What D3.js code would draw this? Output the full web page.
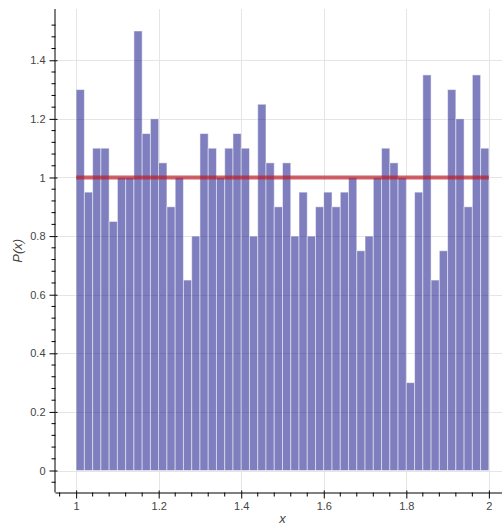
<!DOCTYPE html>
<html><head><meta charset="utf-8">
<script src="https://cdn.jsdelivr.net/npm/d3@7"></script>
<style>body{margin:0;background:#fff}svg{display:block}text{font-family:"Liberation Sans",Helvetica,Arial,sans-serif}</style>
</head><body><svg id="c" width="502" height="526"></svg>
<script>
const binEdgesStart = 1.0;
const binWidth = 0.02;
const values = [1.3,0.95,1.1,1.1,0.85,1.0,1.0,1.5,1.15,1.2,1.05,0.9,1.0,0.65,0.8,1.15,1.1,1.0,1.1,1.15,1.1,0.8,1.25,1.05,0.9,1.05,0.8,0.95,0.8,0.9,0.95,0.9,0.95,1.0,0.75,0.8,1.0,1.1,1.05,1.0,0.3,0.95,1.35,0.65,0.75,1.3,1.2,0.9,1.35,1.1];
const pdfX = [1.0, 2.0];
const pdfY = [1.0, 1.0];
const xTicks = [1,1.2,1.4,1.6,1.8,2];
const yTicks = [0,0.2,0.4,0.6,0.8,1,1.2,1.4];
const xLabel = "x", yLabel = "P(x)";

(function(){
const svg = d3.select("#c");
const x = d3.scaleLinear().domain([0.95,2.05]).range([55.5,509.5]);
const y = d3.scaleLinear().domain([-0.075,1.575]).range([492.5,9]);
const fL = 55.5, fT = 9, fB = 492.5, fR = 509.5;

const g = svg.append("g");
g.selectAll(".gx").data(xTicks).join("line")
 .attr("x1",d=>Math.round(x(d))+0.5).attr("x2",d=>Math.round(x(d))+0.5).attr("y1",fT).attr("y2",fB)
 .attr("stroke","#e5e5e5").attr("stroke-width",1);
g.selectAll(".gy").data(yTicks).join("line")
 .attr("y1",d=>Math.round(y(d))+0.5).attr("y2",d=>Math.round(y(d))+0.5).attr("x1",fL).attr("x2",fR)
 .attr("stroke","#e5e5e5").attr("stroke-width",1);

const bars = values.map((v,i)=>({x0:binEdgesStart+i*binWidth, x1:binEdgesStart+(i+1)*binWidth, v}));
svg.append("g").selectAll("rect").data(bars).join("rect")
 .attr("x",d=>x(d.x0)).attr("width",d=>x(d.x1)-x(d.x0))
 .attr("y",d=>y(d.v)).attr("height",d=>y(0)-y(d.v))
 .attr("fill","rgba(0,0,128,0.5)").attr("stroke","rgba(255,255,255,0.5)").attr("stroke-width",1);

svg.append("path").datum(pdfX.map((d,i)=>[d,pdfY[i]]))
 .attr("d",d3.line().x(d=>x(d[0])).y(d=>y(d[1])))
 .attr("stroke","rgba(190,30,40,0.7)").attr("stroke-width",4).attr("fill","none");

const xAxis = svg.append("g").attr("transform",`translate(0,${fB})`);
xAxis.call(d3.axisBottom(x).tickValues(xTicks).tickFormat(d3.format("~g")).tickSizeInner(6).tickSizeOuter(0).tickPadding(4));
const xMinor = d3.range(0,28).map(i=>+(0.96+i*0.04).toFixed(2)).filter(v=>!xTicks.some(t=>Math.abs(t-v)<1e-9));
xAxis.selectAll(".mn").data(xMinor).join("line").attr("x1",d=>x(d)).attr("x2",d=>x(d)).attr("y1",0).attr("y2",4).attr("stroke","#000");
xAxis.select(".domain").attr("d",`M${fL},0.5H${fR}`);

const yAxis = svg.append("g").attr("transform",`translate(${fL},0)`);
yAxis.call(d3.axisLeft(y).tickValues(yTicks).tickFormat(d3.format("~g")).tickSizeInner(6).tickSizeOuter(0).tickPadding(4));
const yMinor = d3.range(0,40).map(i=>+(-0.04+i*0.04).toFixed(2)).filter(v=>v<1.575 && !yTicks.some(t=>Math.abs(t-v)<1e-9));
yAxis.selectAll(".mn").data(yMinor).join("line").attr("y1",d=>y(d)).attr("y2",d=>y(d)).attr("x1",0).attr("x2",-4).attr("stroke","#000");
yAxis.select(".domain").attr("d",`M-0.5,${fT}V${fB}`);

[xAxis,yAxis].forEach(a=>{
  a.selectAll(".tick line").attr("stroke","#000");
  a.selectAll(".domain").attr("stroke","#000");
  a.selectAll("text").attr("fill","#444").style("font-size","11px");
});
xAxis.selectAll(".tick").append("line").attr("y1",0).attr("y2",-2).attr("stroke","#000");
yAxis.selectAll(".tick").append("line").attr("x1",0).attr("x2",2).attr("stroke","#000");

svg.append("text").attr("x",x(1.5)).attr("y",523).attr("text-anchor","middle")
 .style("font-size","13px").style("font-style","italic").attr("fill","#444").text(xLabel);
svg.append("text").attr("transform",`translate(22,${(fT+fB)/2}) rotate(-90)`).attr("text-anchor","middle")
 .style("font-size","13px").style("font-style","italic").attr("fill","#444").text(yLabel);
})();
</script></body></html>
